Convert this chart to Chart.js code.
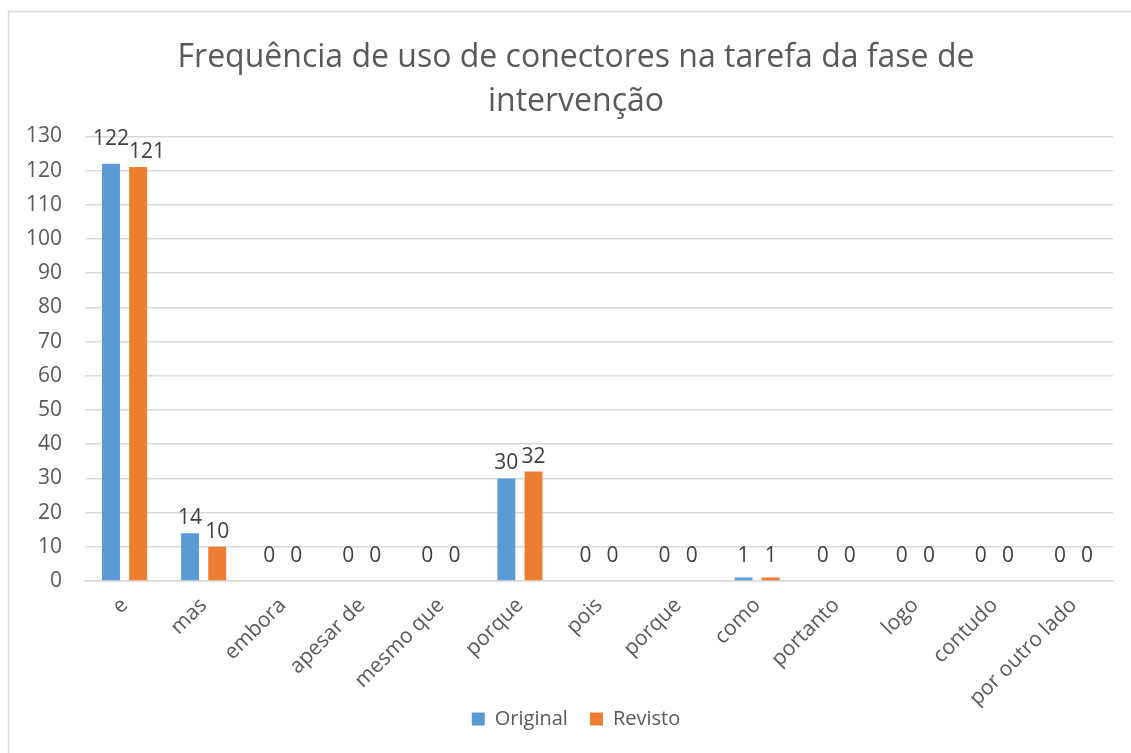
<!DOCTYPE html>
<html>
<head>
<meta charset="utf-8">
<script src="https://cdn.jsdelivr.net/npm/chart.js@4"></script>
<style>
  body { margin: 0; background: #fff; }
  #wrap { position: relative; width: 1131px; height: 753px; }
</style>
</head>
<body>
<div id="wrap"><canvas id="myChart"></canvas></div>
<script>
// conectores (eixo x)
const categorias = ['e', 'mas', 'embora', 'apesar de', 'mesmo que', 'porque', 'pois', 'porque', 'como', 'portanto', 'logo', 'contudo', 'por outro lado']
// frequencias por versao do texto
const original = [122, 14, 0, 0, 0, 30, 0, 0, 1, 0, 0, 0, 0]
const revisto = [121, 10, 0, 0, 0, 32, 0, 0, 1, 0, 0, 0, 0]
// eixo y
const yMin = 0
const yMax = 130
const yPasso = 10

const fonte = 'Open Sans'
const cinza = '#595959'

// moldura do grafico
const moldura = {
  id: 'moldura',
  beforeDraw(chart) {
    const ctx = chart.ctx
    ctx.save()
    ctx.strokeStyle = '#d9d9d9'
    ctx.lineWidth = 1.5
    ctx.beginPath()
    ctx.moveTo(8.5, chart.height + 5)
    ctx.lineTo(8.5, 11.5)
    ctx.lineTo(chart.width + 5, 11.5)
    ctx.stroke()
    ctx.restore()
  }
}

// titulo e legenda um pouco para a direita, legenda sobe para junto dos rotulos
const ajuste = {
  id: 'ajuste',
  afterLayout(chart) {
    const lg = chart.legend
    lg.top -= 36
    lg.height += 36
    lg.left += 18
    lg.right += 18
    chart.titleBlock.left += 18
    chart.titleBlock.right += 18
  }
}

// rotulos com o valor em cima de cada barra
const rotulos = {
  id: 'rotulos',
  afterDatasetsDraw(chart) {
    const ctx = chart.ctx
    const base = chart.scales.y.getPixelForValue(0)
    ctx.save()
    ctx.font = '21px "' + fonte + '"'
    ctx.fillStyle = '#404040'
    ctx.textAlign = 'center'
    ctx.textBaseline = 'middle'
    const m0 = chart.getDatasetMeta(0).data
    const m1 = chart.getDatasetMeta(1).data
    categorias.forEach((c, j) => {
      const t0 = String(original[j]), t1 = String(revisto[j])
      let x0 = m0[j].x, x1 = m1[j].x
      let y0 = Math.min(m0[j].y - 15, base - 25)
      let y1 = Math.min(m1[j].y - 15, base - 25)
      // quando os numeros se tocam, afasta-os
      const sobra = (ctx.measureText(t0).width + ctx.measureText(t1).width) / 2 - (x1 - x0)
      if (sobra > 0 && Math.abs(y0 - y1) < 20) {
        x1 += sobra
        if (y0 <= y1) y0 -= 10
        else y1 -= 10
      }
      ctx.fillText(t0, x0, y0)
      ctx.fillText(t1, x1, y1)
    })
    ctx.restore()
  }
}

new Chart('myChart', {
  type: 'bar',
  data: {
    labels: categorias,
    datasets: [{
      label: 'Original',
      data: original,
      backgroundColor: '#5b9bd5',
      categoryPercentage: 0.687,
      barPercentage: 0.66
    }, {
      label: 'Revisto',
      data: revisto,
      backgroundColor: '#ed7d31',
      categoryPercentage: 0.687,
      barPercentage: 0.66
    }]
  },
  options: {
    responsive: true,
    maintainAspectRatio: false,
    animation: false,
    layout: { padding: { left: 3, right: 18, top: 36, bottom: 10 } },
    plugins: {
      title: {
        display: true,
        text: ['Frequência de uso de conectores na tarefa da fase de', 'intervenção'],
        color: cinza,
        font: { family: fonte, size: 32, weight: 'normal', lineHeight: 1.38 },
        padding: { top: 0, bottom: 12 }
      },
      legend: {
        position: 'bottom',
        maxHeight: 20,
        labels: {
          color: cinza,
          boxWidth: 13,
          boxHeight: 13,
          padding: 22,
          font: { family: fonte, size: 20 }
        }
      },
      tooltip: { enabled: false }
    },
    scales: {
      y: {
        min: yMin,
        max: yMax,
        ticks: { stepSize: yPasso, color: cinza, padding: 23, font: { family: fonte, size: 21 } },
        grid: { color: '#d9d9d9', drawTicks: false, lineWidth: 1.5 },
        border: { display: false }
      },
      x: {
        ticks: { color: cinza, minRotation: 45, maxRotation: 45, padding: 12, font: { family: fonte, size: 21 } },
        grid: { display: false, drawTicks: false },
        border: { color: '#d9d9d9', width: 1.5 }
      }
    }
  },
  plugins: [moldura, ajuste, rotulos]
})
</script>
</body>
</html>
